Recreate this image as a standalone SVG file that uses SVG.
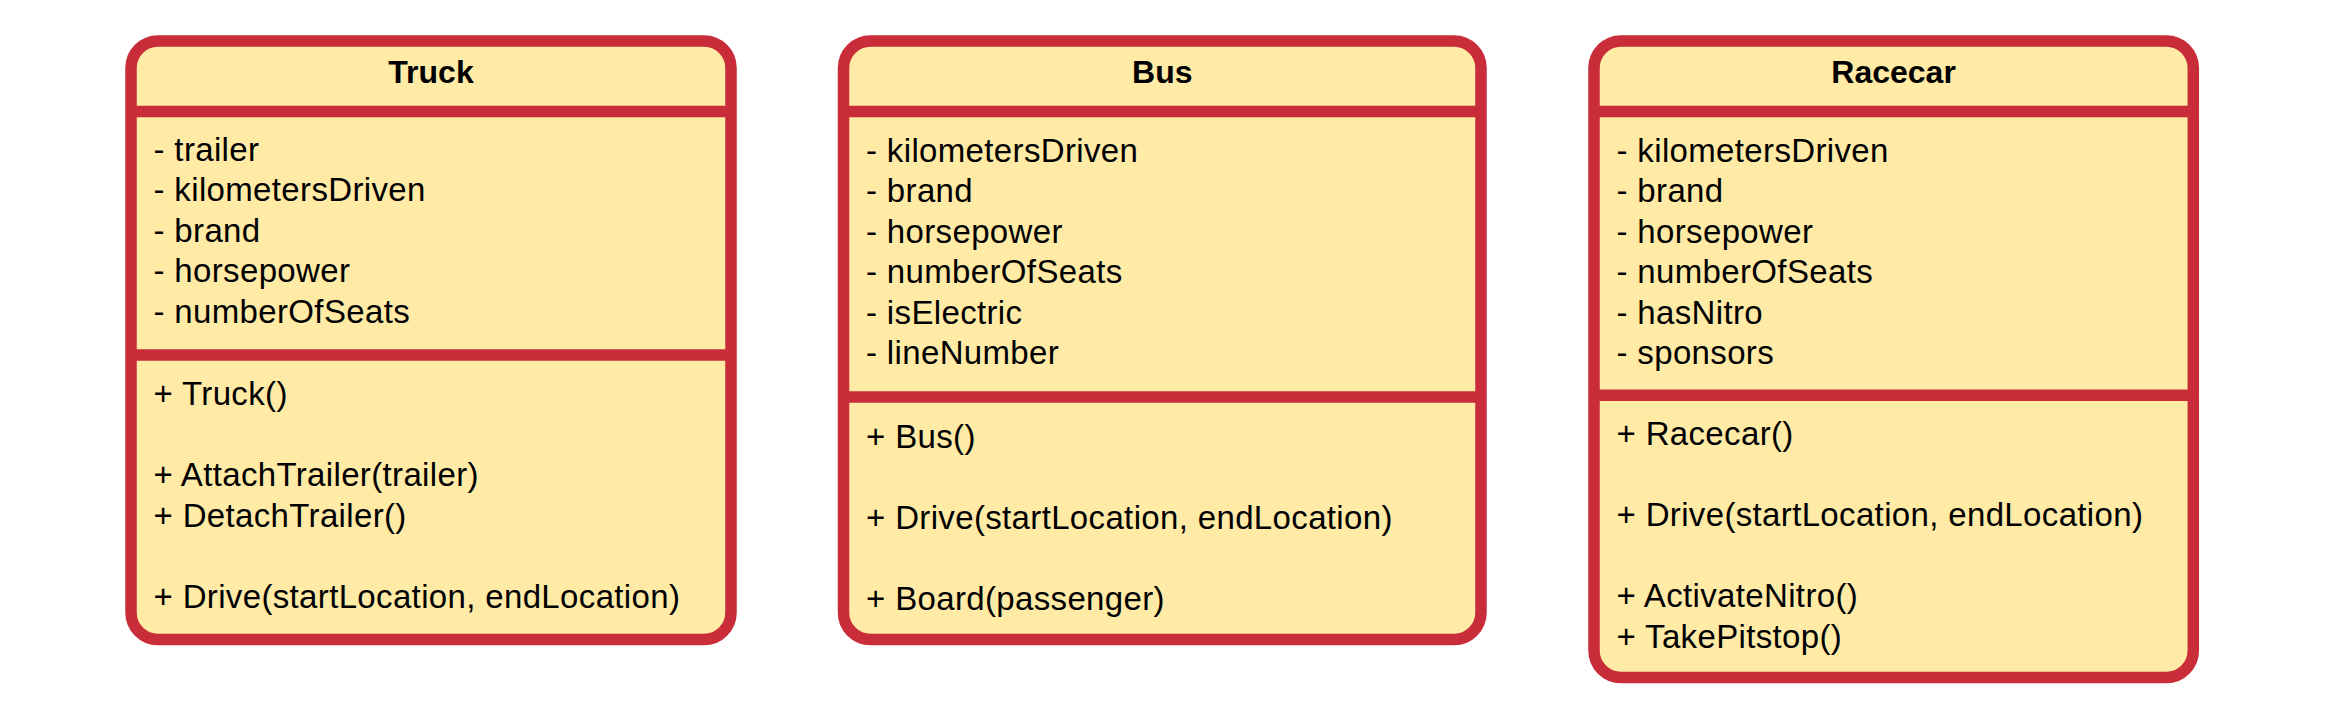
<svg xmlns="http://www.w3.org/2000/svg" width="2334" height="707" viewBox="0 0 2334 707">
<style>
.box{fill:#FFEAA6;stroke:#C92D39;stroke-width:11.5}
.div{stroke:#C92D39;stroke-width:11.5;fill:none}
.t{font-family:"Liberation Sans",Arial,sans-serif;font-size:33px;letter-spacing:0.35px;fill:#000}
.h{font-family:"Liberation Sans",Arial,sans-serif;font-size:32px;font-weight:bold;fill:#000;text-anchor:middle}
</style>
<rect width="2334" height="707" fill="#fff"/>
<g id="connectors"></g>
<g id="truck">
<rect class="box" x="131" y="41" width="600" height="598.5" rx="27" ry="27"/>
<line class="div" x1="131" y1="111.5" x2="731" y2="111.5"/>
<line class="div" x1="131" y1="355" x2="731" y2="355"/>
<text class="h" x="431" y="83.3">Truck</text>
<text class="t" x="153.5" y="160.5">- trailer</text>
<text class="t" x="153.5" y="201">- kilometersDriven</text>
<text class="t" x="153.5" y="241.5">- brand</text>
<text class="t" x="153.5" y="282">- horsepower</text>
<text class="t" x="153.5" y="322.5">- numberOfSeats</text>
<text class="t" x="153.5" y="405">+ Truck()</text>
<text class="t" x="153.5" y="486">+ AttachTrailer(trailer)</text>
<text class="t" x="153.5" y="526.5">+ DetachTrailer()</text>
<text class="t" x="153.5" y="607.5">+ Drive(startLocation, endLocation)</text>
</g>
<g id="bus">
<rect class="box" x="843.5" y="41" width="637.5" height="598.5" rx="27" ry="27"/>
<line class="div" x1="843.5" y1="111.5" x2="1481" y2="111.5"/>
<line class="div" x1="843.5" y1="397" x2="1481" y2="397"/>
<text class="h" x="1162.3" y="83.3">Bus</text>
<text class="t" x="866" y="161.5">- kilometersDriven</text>
<text class="t" x="866" y="202">- brand</text>
<text class="t" x="866" y="242.5">- horsepower</text>
<text class="t" x="866" y="283">- numberOfSeats</text>
<text class="t" x="866" y="323.5">- isElectric</text>
<text class="t" x="866" y="364">- lineNumber</text>
<text class="t" x="866" y="448">+ Bus()</text>
<text class="t" x="866" y="529">+ Drive(startLocation, endLocation)</text>
<text class="t" x="866" y="610">+ Board(passenger)</text>
</g>
<g id="racecar">
<rect class="box" x="1594" y="41" width="599.3" height="636.5" rx="27" ry="27"/>
<line class="div" x1="1594" y1="111.5" x2="2193.3" y2="111.5"/>
<line class="div" x1="1594" y1="395.3" x2="2193.3" y2="395.3"/>
<text class="h" x="1893.6" y="83.3">Racecar</text>
<text class="t" x="1616.5" y="161.5">- kilometersDriven</text>
<text class="t" x="1616.5" y="202">- brand</text>
<text class="t" x="1616.5" y="242.5">- horsepower</text>
<text class="t" x="1616.5" y="283">- numberOfSeats</text>
<text class="t" x="1616.5" y="323.5">- hasNitro</text>
<text class="t" x="1616.5" y="364">- sponsors</text>
<text class="t" x="1616.5" y="445">+ Racecar()</text>
<text class="t" x="1616.5" y="526">+ Drive(startLocation, endLocation)</text>
<text class="t" x="1616.5" y="607">+ ActivateNitro()</text>
<text class="t" x="1616.5" y="647.5">+ TakePitstop()</text>
</g>
</svg>
